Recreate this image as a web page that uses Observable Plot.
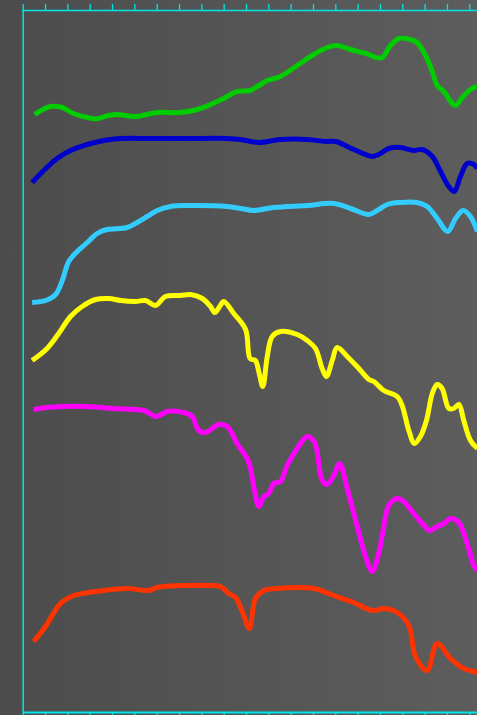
<!DOCTYPE html>
<html>
<head>
<meta charset="utf-8">
<script src="https://cdn.jsdelivr.net/npm/d3@7"></script>
<script src="https://cdn.jsdelivr.net/npm/@observablehq/plot@0.6"></script>
<style>
  html, body { margin: 0; padding: 0; }
  body { width: 477px; height: 715px; overflow: hidden;
         background: linear-gradient(to right, #4c4c4c, #5d5d5d); }
  svg { display: block; background: transparent; }
</style>
</head>
<body>
<div id="chart"></div>
<script>
const tickValues = d3.range(0, 21);

const greenX = [0.51,1.22,1.75,2.25,3.09,3.37,3.82,4.21,5.03,6.00,7.04,7.79,8.39,8.97,9.58,10.18,10.48,10.93,11.52,12.27,13.01,13.61,14.06,14.66,15.48,15.78,16.08,16.45,16.82,17.34,17.64,18.02,18.32,18.54,18.84,19.14,19.36,19.66,20.03,20.34];
const greenY = [59.8,60.6,60.5,59.9,59.4,59.4,59.7,59.8,59.6,60.0,60.0,60.3,60.8,61.4,62.1,62.2,62.6,63.2,63.6,64.7,65.8,66.5,66.7,66.3,65.8,65.5,65.5,66.7,67.4,67.3,67.0,65.7,64.1,62.7,62.1,61.1,60.7,61.5,62.3,62.6];

const blueX = [0.40,0.92,1.52,2.12,2.87,3.61,4.36,5.85,7.34,9.14,9.73,10.55,11.52,12.72,13.54,13.99,14.81,15.63,16.00,16.37,16.90,17.49,17.87,18.32,18.69,19.06,19.31,19.58,19.88,20.18,20.34];
const blueY = [53.0,54.2,55.4,56.2,56.8,57.2,57.4,57.4,57.4,57.4,57.3,57.0,57.3,57.3,57.1,57.1,56.3,55.6,55.9,56.4,56.5,56.2,56.3,55.6,54.1,52.6,52.1,53.6,54.9,54.8,54.4];

const cyanX = [0.40,1.00,1.45,1.75,2.04,2.42,2.87,3.31,3.76,4.66,5.18,5.55,6.00,6.60,7.34,9.14,9.73,10.33,11.22,12.72,13.91,14.66,15.48,15.85,16.30,16.90,17.64,18.09,18.54,19.01,19.36,19.70,20.03,20.34];
const cyanY = [41.0,41.2,41.8,43.2,45.1,46.1,47.0,47.9,48.3,48.5,49.1,49.6,50.2,50.6,50.7,50.6,50.4,50.2,50.5,50.7,50.9,50.4,49.8,50.2,50.8,51.0,51.0,50.6,49.4,48.1,49.4,50.2,49.6,48.1];

const yellowX = [0.40,1.07,1.59,2.12,2.64,3.24,3.83,4.36,5.03,5.48,5.92,6.37,7.04,7.49,8.02,8.39,8.58,8.80,8.98,9.43,9.96,10.16,10.40,10.55,10.73,10.93,11.15,11.52,12.27,12.72,13.09,13.39,13.58,13.84,14.06,14.51,15.03,15.48,15.70,16.15,16.75,16.97,17.27,17.52,17.79,18.06,18.32,18.54,18.76,19.06,19.28,19.51,19.73,20.03,20.34];
const yellowY = [35.2,36.4,37.9,39.6,40.6,41.3,41.4,41.2,41.1,41.2,40.7,41.6,41.7,41.8,41.4,40.6,40.0,40.6,41.1,39.9,38.3,35.4,35.2,34.1,32.6,35.6,37.6,38.1,37.8,37.2,36.4,34.4,33.6,35.2,36.5,35.6,34.4,33.3,33.1,32.2,31.6,30.7,28.2,26.9,27.6,29.2,31.9,32.8,32.4,30.4,30.4,30.8,29.2,27.2,26.4];

const magentaX = [0.47,1.07,1.75,2.87,4.06,5.40,5.97,6.45,7.19,7.57,7.86,8.16,8.76,9.14,9.58,10.09,10.36,10.55,10.78,11.00,11.22,11.52,11.82,12.27,12.72,13.05,13.39,13.61,13.91,14.17,14.51,14.96,15.33,15.63,15.92,16.15,16.37,16.75,17.04,17.49,17.87,18.21,18.54,18.84,19.14,19.51,19.88,20.18,20.34];
const magentaY = [30.3,30.5,30.6,30.6,30.4,30.2,29.6,30.1,30.0,29.6,28.2,28.0,28.8,28.6,26.9,25.1,22.2,20.6,21.6,21.9,22.9,23.1,24.7,26.4,27.6,27.0,23.2,22.8,23.7,24.9,22.4,18.6,15.6,14.1,15.9,18.6,20.7,21.4,21.1,19.9,18.9,18.2,18.6,18.9,19.4,19.0,16.9,14.7,14.2];

const redX = [0.47,1.00,1.67,2.27,3.61,4.66,5.62,6.00,7.34,8.24,8.84,9.21,9.51,9.81,10.13,10.40,10.78,11.37,13.01,13.91,14.81,15.63,16.15,16.75,17.27,17.57,18.09,18.54,19.14,19.73,20.18,20.34];
const redY = [7.1,8.6,10.9,11.7,12.2,12.4,12.2,12.5,12.7,12.7,12.6,11.9,11.5,10.1,8.4,11.4,12.2,12.4,12.4,11.7,11.0,10.2,10.4,10.0,8.7,5.6,4.2,6.9,5.4,4.4,4.1,4.0];

const series = [
  {name: "green", color: "#00cc00", xs: greenX, ys: greenY},
  {name: "blue", color: "#0000cc", xs: blueX, ys: blueY},
  {name: "cyan", color: "#33ccff", xs: cyanX, ys: cyanY},
  {name: "yellow", color: "#ffff00", xs: yellowX, ys: yellowY},
  {name: "magenta", color: "#ff00ff", xs: magentaX, ys: magentaY},
  {name: "red", color: "#ff3300", xs: redX, ys: redY}
];

const axisColor = "#00e6e6";
const xMax = 20.345, yMax = 70.2;

const lineMarks = series.map(s =>
  Plot.line(s.xs.map((x, i) => ({x, y: s.ys[i]})), {
    x: "x", y: "y", stroke: s.color, strokeWidth: 5,
    curve: "catmull-rom", strokeLinecap: "butt", strokeLinejoin: "round", clip: true
  })
);

const chart = Plot.plot({
  width: 477,
  height: 715,
  marginLeft: 22.7,
  marginRight: 0,
  marginTop: 10,
  marginBottom: 3,
  style: {background: "transparent", overflow: "visible"},
  x: {domain: [0, xMax], axis: null, label: null},
  y: {domain: [0, yMax], axis: null, label: null},
  marks: [
    Plot.axisX({anchor: "top", ticks: tickValues, tickSize: 7, tickFormat: () => "", label: null, stroke: axisColor, strokeWidth: 1.3}),
    Plot.axisX({anchor: "bottom", ticks: tickValues, tickSize: 3, tickFormat: () => "", label: null, stroke: axisColor, strokeWidth: 1.3}),
    Plot.ruleY([yMax], {stroke: axisColor, strokeWidth: 1.5}),
    Plot.ruleY([0], {stroke: axisColor, strokeWidth: 1.8}),
    ...lineMarks,
    Plot.ruleX([0], {stroke: axisColor, strokeWidth: 1.5})
  ]
});

document.getElementById("chart").appendChild(chart);
</script>
</body>
</html>
